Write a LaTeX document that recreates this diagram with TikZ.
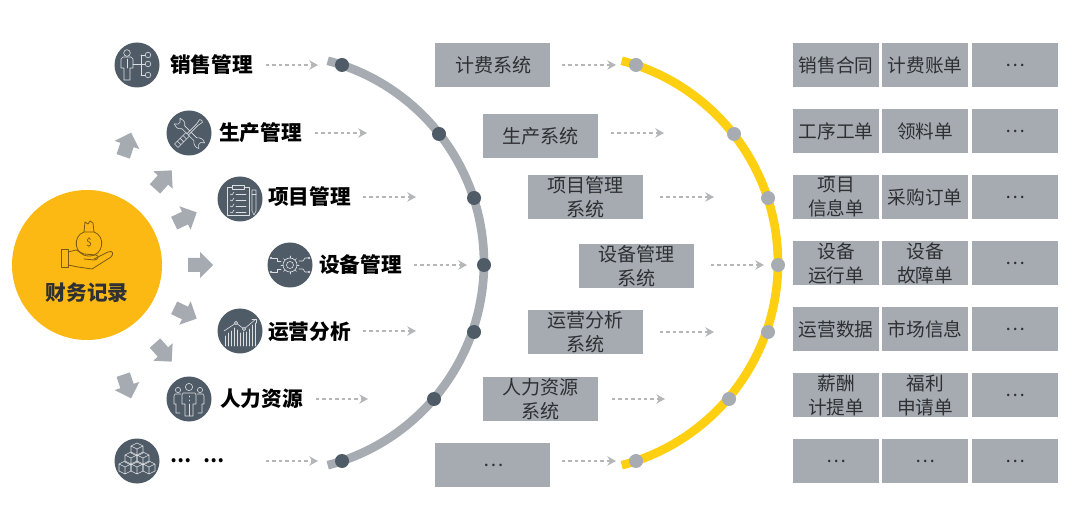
\documentclass[tikz,border=0pt]{standalone}
\usepackage{fontspec}
\setmainfont{Noto Sans CJK SC}
\usetikzlibrary{arrows.meta}
\definecolor{boxgray}{HTML}{A6ABB2}
\definecolor{arcgray}{HTML}{A7ACB2}
\definecolor{slate}{HTML}{4F5B67}
\definecolor{sun}{HTML}{FDB913}
\definecolor{arcyel}{HTML}{FFD012}
\definecolor{dashgray}{HTML}{B4B6B8}
\definecolor{inkdark}{HTML}{2E3033}
\definecolor{bagink}{HTML}{7A5A12}
\definecolor{iconline}{HTML}{DDE0E3}
\tikzset{
  x=0.75pt,y=-0.75pt,
  iconbg/.style={circle,fill=slate,minimum size=33.75pt,inner sep=0pt},
  topiclabel/.style={font=\fontsize{15.5}{18}\selectfont\bfseries,text=black,inner sep=0pt},
  sysbox/.style={fill=boxgray,minimum width=86.25pt,minimum height=33pt,inner sep=0pt,align=center,text=inkdark,font=\fontsize{14.3}{18}\selectfont},
  docbox/.style={fill=boxgray,minimum width=64.5pt,minimum height=33pt,inner sep=0pt,align=center,text=inkdark,font=\fontsize{14}{18}\selectfont},
  flowarrow/.style={draw=dashgray,line width=1.4pt,dash pattern=on 2.6pt off 2.2pt,-{Stealth[length=6.5pt,width=7pt]}},
  arcline/.style={line width=6.5pt,line cap=butt},
  arcdot/.style={circle,minimum size=10.5pt,inner sep=0pt},
  iconstroke/.style={draw=iconline,line width=0.45pt,line cap=round,line join=round},
  bagstroke/.style={draw=bagink,line width=0.6pt,line cap=round,line join=round},
}
\begin{document}
\begin{tikzpicture}
\useasboundingbox (0,0) rectangle (1080,505);
\fill[white] (0,0) rectangle (1080,505);
% big circle
\node[circle,fill=sun,minimum size=112.5pt,inner sep=0pt] (root) at (87,265) {};
\node[font=\fontsize{15.5}{18}\selectfont\bfseries,text=inkdark,inner sep=0pt] (rootlabel) at (87,293) {财务记录};
\begin{scope}[bagstroke]
  \draw (84,232) .. controls (72,236) and (74,256) .. (89,256) .. controls (104,256) and (106,236) .. (94,232) -- cycle;
  \draw (84,232) -- (85,222) -- (88,224) -- (90,221) -- (93,223) -- (94,232);
  \node[font=\fontsize{8}{8}\selectfont,text=bagink,inner sep=0pt] (bagsign) at (89,243) {\$};
  \draw (61,249) rectangle (68,267);
  \draw (68,252) -- (76,250) -- (84,254) -- (96,255) .. controls (100,256) and (98,260) .. (94,260) -- (84,259);
  \draw (94,259) -- (108,252) .. controls (113,250) and (114,254) .. (111,257) -- (92,269) -- (78,267) -- (68,265);
\end{scope}
% block arrows
\foreach \cx/\cy/\ang in {127/145/71.6,163/180/48,185/218/25.6,200/265/0,185/313/-25.6,163/352/-48,127/386/-71.6}{
  \fill[boxgray,shift={(\cx,\cy)},rotate=\ang] (-12,-7) -- (0,-7) -- (0,-13) -- (13,0) -- (0,13) -- (0,7) -- (-12,7) -- cycle;
}
% arcs
\draw[arcline,arcgray] plot[samples=80,domain=-75.4:75.4] ({275+209*cos(\x)},{263+209*sin(\x)});
\draw[arcline,arcyel] plot[samples=80,domain=-75.4:75.4] ({569+209*cos(\x)},{263+209*sin(\x)});
\foreach \n/\x/\y in {1/342/65,2/439/134,3/474/198,4/484/265,5/474/332,6/434/399,7/342/461}{
  \node[arcdot,fill=slate] (g\n) at (\x,\y) {};
}
\foreach \n/\x/\y in {1/636/65,2/734/134,3/768/198,4/778/265,5/768/332,6/729/399,7/636/461}{
  \node[arcdot,fill=arcgray] (y\n) at (\x,\y) {};
}
% icon discs and labels
\node[iconbg] (i1) at (137,65) {};
\node[iconbg] (i2) at (189,133) {};
\node[iconbg] (i3) at (240,199) {};
\node[iconbg] (i4) at (290,265) {};
\node[iconbg] (i5) at (240,331) {};
\node[iconbg] (i6) at (189,399) {};
\node[iconbg] (i7) at (137,461) {};
\node[topiclabel,anchor=west] (l1) at (170,65) {销售管理};
\node[topiclabel,anchor=west] (l2) at (219,133) {生产管理};
\node[topiclabel,anchor=west] (l3) at (268,197) {项目管理};
\node[topiclabel,anchor=west] (l4) at (319,265) {设备管理};
\node[topiclabel,anchor=west] (l5) at (268,332) {运营分析};
\node[topiclabel,anchor=west] (l6) at (220,399) {人力资源};
\node[topiclabel,anchor=west,font=\fontsize{14}{18}\selectfont\bfseries] (l7) at (170,461) {…\hspace{9pt}…};
% icon 1
\begin{scope}[shift={(137,65)},iconstroke]
  \draw (-10,-12) circle (3.3);
  \draw (-14,-8) -- (-6,-8) -- (-4,-6) -- (-4,3) -- (-7,3) -- (-7,15) -- (-13,15) -- (-13,3) -- (-16,3) -- (-16,-6) -- cycle;
  \draw (-10,-6) -- (-10,3);
  \draw (-4,-1) -- (4,-1);
  \draw (4,-10) -- (4,10);
  \draw (4,-10) -- (8,-10) (4,-1) -- (8,-1) (4,10) -- (8,10);
  \draw (11,-10) circle (2.8) (11,-1) circle (2.8) (11,10) circle (2.8);
\end{scope}
% icon 2
\begin{scope}[shift={(189,133)},iconstroke]
  \begin{scope}[rotate=-45]
    \draw (-17,-4) -- (-14,-1.5) -- (-14,1.5) -- (-17,4) .. controls (-11,6) and (-9,4) .. (-8,2) -- (9,2) .. controls (11,5) and (15,6) .. (18,4) -- (15,1.5) -- (15,-1.5) -- (18,-4) .. controls (15,-6) and (11,-5) .. (9,-2) -- (-8,-2) .. controls (-9,-4) and (-11,-6) .. (-17,-4) -- cycle;
  \end{scope}
  \begin{scope}[rotate=45]
    \draw[fill=slate] (-18,-2.5) rectangle (-2,2.5);
    \draw (-14,-2.5) -- (-14,2.5) (-10,-2.5) -- (-10,2.5) (-6,-2.5) -- (-6,2.5);
    \draw[fill=slate] (-2,-1) -- (12,-1) -- (17,-2) -- (18,0) -- (17,2) -- (12,1) -- (-2,1);
  \end{scope}
\end{scope}
% icon 3
\begin{scope}[shift={(240,199)},iconstroke]
  \draw (-8,-12) -- (-13,-12) -- (-13,16) -- (9,16) -- (9,-12) -- (4,-12);
  \draw (-8,-14) rectangle (4,-10);
  \foreach \yy in {-5,1,7,13}{
    \draw (-10,\yy) -- (-8,\yy+1) -- (-6,\yy-2);
    \draw (-4,\yy) -- (6,\yy);
  }
  \draw (12,-9) -- (16,-9) -- (16,12) -- (14,16) -- (12,12) -- cycle;
  \draw (12,-5) -- (16,-5);
\end{scope}
% icon 4
\begin{scope}[shift={(290,265)},iconstroke]
  \draw (0,0) circle (3.5);
  \draw (0,0) circle (7);
  \foreach \a in {0,45,...,315}{ \draw (\a:7) -- (\a:9); }
  \draw (-9,-4) -- (-13,-4) -- (-13,-7) -- (-18,-7);
  \draw (-9,4) -- (-13,4) -- (-13,7) -- (-18,7);
  \draw (9,-4) -- (13,-4) -- (15,-7) -- (18,-7);
  \draw (9,4) -- (13,4) -- (15,7) -- (18,7);
  \draw (-19,-7) circle (1) (-19,7) circle (1) (19,-7) circle (1) (19,7) circle (1);
\end{scope}
% icon 5
\begin{scope}[shift={(240,331)},iconstroke]
  \foreach \xx/\yy in {-15/5,-12/2,-9/0,-6/-3,-3/-1,0/2,3/1,6/1,9/-2,12/-6,15/-8}{
    \draw (\xx,15) -- (\xx,\yy);
  }
  \draw (-16,0) -- (-4,-8) -- (4,-2) -- (16,-12);
  \draw[fill=slate] (-4,-8) circle (1.6) (4,-2) circle (1.6);
  \draw (12,-12) -- (16,-12) -- (16,-8);
\end{scope}
% icon 6
\begin{scope}[shift={(189,399)},iconstroke]
  \draw (0,-12) circle (3.6);
  \draw (-11,-9) circle (2.6) (11,-9) circle (2.6);
  \draw (-6,-6) -- (6,-6) -- (7,-4) -- (7,5) -- (4,5) -- (4,17) -- (-4,17) -- (-4,5) -- (-7,5) -- (-7,-4) -- cycle;
  \draw (0,5) -- (0,17);
  \draw (0,-3) -- (0,-2) (0,1) -- (0,2);
  \draw (-8,-5) -- (-14,-5) -- (-15,-3) -- (-15,5) -- (-13,5) -- (-13,14) -- (-9,14);
  \draw (8,-5) -- (14,-5) -- (15,-3) -- (15,5) -- (13,5) -- (13,14) -- (9,14);
\end{scope}
% icon 7
\begin{scope}[shift={(137,461)},iconstroke]
  \foreach \cx/\cy in {0/-12,-6/-3,6/-3,-12/6,0/6,12/6}{
    \draw[shift={(\cx,\cy)}] (-6,-3) -- (0,-6) -- (6,-3) -- (6,4) -- (0,7) -- (-6,4) -- cycle (-6,-3) -- (0,0) -- (6,-3) (0,0) -- (0,7);
  }
\end{scope}
% system boxes
\node[sysbox] (s1) at (492.5,65) {\hspace{1.5pt}计费系统};
\node[sysbox] (s2) at (540.5,136) {生产系统};
\node[sysbox] (s3) at (585.5,197.5) {项目管理\\系统};
\node[sysbox] (s4) at (636.5,266) {设备管理\\系统};
\node[sysbox] (s5) at (585.5,332) {运营分析\\系统};
\node[sysbox] (s6) at (540.5,399) {人力资源\\系统};
\node[sysbox] (s7) at (492.5,465) {\hspace{1.5pt}…};
% document boxes
\node[docbox] (d11) at (836,65) {销售合同};
\node[docbox] (d12) at (925,65) {计费账单};
\node[docbox] (d13) at (1015,65) {…};
\node[docbox] (d21) at (836,131) {工序工单};
\node[docbox] (d22) at (925,131) {领料单};
\node[docbox] (d23) at (1015,131) {…};
\node[docbox] (d31) at (836,197) {项目\\信息单};
\node[docbox] (d32) at (925,197) {采购订单};
\node[docbox] (d33) at (1015,197) {…};
\node[docbox] (d41) at (836,263) {设备\\运行单};
\node[docbox] (d42) at (925,263) {设备\\故障单};
\node[docbox] (d43) at (1015,263) {…};
\node[docbox] (d51) at (836,329) {运营数据};
\node[docbox] (d52) at (925,329) {市场信息};
\node[docbox] (d53) at (1015,329) {…};
\node[docbox] (d61) at (836,395) {薪酬\\计提单};
\node[docbox] (d62) at (925,395) {福利\\申请单};
\node[docbox] (d63) at (1015,395) {…};
\node[docbox] (d71) at (836,461) {…};
\node[docbox] (d72) at (925,461) {…};
\node[docbox] (d73) at (1015,461) {…};
% flow arrows
\foreach \n/\a/\b/\y in {1/266/318/65,2/315/367/133,3/363/416/197,4/414/467/265,5/363/416/331,6/316/368/399,7/266/318/461}{
  \coordinate (fa\n) at (\a,\y);
  \coordinate (fb\n) at (\b,\y);
  \draw[flowarrow] (fa\n) -- (fb\n);
}
\foreach \n/\a/\b/\y in {1/562/616/65,2/611/664/133,3/660/714/197,4/711/764/265,5/660/714/332,6/612/665/399,7/562/616/461}{
  \coordinate (ha\n) at (\a,\y);
  \coordinate (hb\n) at (\b,\y);
  \draw[flowarrow] (ha\n) -- (hb\n);
}
\end{tikzpicture}
\end{document}
